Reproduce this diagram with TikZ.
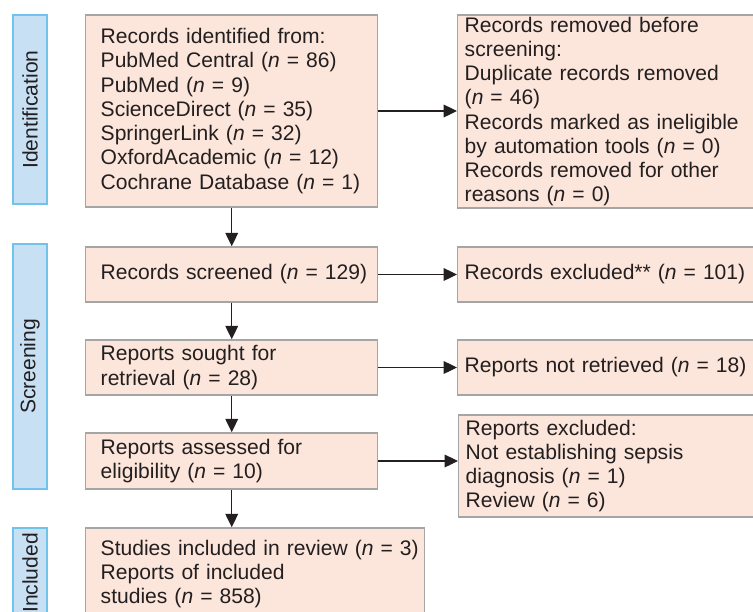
\documentclass[tikz,border=0pt]{standalone}
\usepackage{fontspec}
\setmainfont{Liberation Sans}
\usetikzlibrary{arrows.meta}
\definecolor{boxfill}{RGB}{252,229,218}
\definecolor{boxline}{RGB}{165,165,165}
\definecolor{stagefill}{RGB}{200,224,243}
\definecolor{stageline}{RGB}{112,196,236}
\definecolor{ink}{RGB}{35,31,32}
\newcommand{\nn}[1]{(\textit{n} = #1)}
\begin{document}
\begin{tikzpicture}[x=0.75pt, y=-0.75pt, >={Triangle[length=10pt,width=9.5pt]},
    every node/.style={font=\fontsize{15.8pt}{18.2pt}\selectfont, text=ink},
    flowbox/.style={draw=boxline, fill=boxfill, line width=1.1pt, anchor=west, inner xsep=5.25pt, align=left},
    leftbox/.style={flowbox, text width=208.5pt, execute at begin node={\leftskip=6pt}},
    rightbox/.style={flowbox, text width=237pt},
    stagebox/.style={draw=stageline, fill=stagefill, line width=1.1pt, rotate=90, minimum height=25.5pt, inner sep=0pt},
    link/.style={->, draw=ink, line width=0.9pt}]
    \useasboundingbox (0,0) rectangle (753,611);
    \clip (0,0) rectangle (753,611);

    % Stages
    \node[stagebox, minimum width=141.75pt] (sident) at (30,109.5) {Identification};
    \node[stagebox, minimum width=183.75pt] (sscreen) at (30,366.5) {Screening};
    \node[stagebox, minimum width=67.5pt] (sincl) at (30,573) {Included};

    % Identification
    \node[leftbox, minimum height=144pt] (ident) at (85,111) {Records identified from:\\
        PubMed Central \nn{86}\\ PubMed \nn{9}\\ ScienceDirect \nn{35}\\
        SpringerLink \nn{32}\\ OxfordAcademic \nn{12}\\ Cochrane Database \nn{1}};
    \node[rightbox, minimum height=144.75pt, inner ysep=1pt] (removed) at (457,111.5) {Records removed before\\
        screening:\\ Duplicate records removed\\ \nn{46}\\ Records marked as ineligible\\
        by automation tools \nn{0}\\ Records removed for other\\ reasons \nn{0}};

    % Screening
    \node[leftbox, minimum height=41.25pt] (screened) at (85,274.5) {Records screened \nn{129}};
    \node[rightbox, minimum height=41.25pt] (excluded) at (457,274.5) {Records excluded** \nn{101}};
    \node[leftbox, minimum height=41.25pt] (sought) at (85,367.5) {Reports sought for\\ retrieval \nn{28}};
    \node[rightbox, minimum height=41.25pt] (notret) at (457,367.5) {Reports not retrieved \nn{18}};
    \node[leftbox, minimum height=42pt] (assessed) at (85,461) {Reports assessed for\\ eligibility \nn{10}};
    \node[rightbox, minimum height=76.5pt] (repexcl) at (458,466) {Reports excluded:\\
        Not establishing sepsis\\ diagnosis \nn{1}\\ Review \nn{6}};

    % Included
    \node[leftbox, inner xsep=2pt, text width=250.25pt, minimum height=69pt,
        execute at begin node={\leftskip=9.25pt}] (incl) at (85,574) {Studies included in review \nn{3}\\
        Reports of included\\ studies \nn{858}};

    % Edges
    \draw[link] (ident.south) -- (screened.north);
    \draw[link] (screened.south) -- (sought.north);
    \draw[link] (sought.south) -- (assessed.north);
    \draw[link] (assessed.south) -- (assessed.south |- incl.north);

    \draw[link] (ident.east) -- (ident.east -| removed.west);
    \draw[link] (screened.east) -- (excluded.west);
    \draw[link] (sought.east) -- (notret.west);
    \draw[link] (assessed.east) -- (assessed.east -| repexcl.west);
\end{tikzpicture}
\end{document}
